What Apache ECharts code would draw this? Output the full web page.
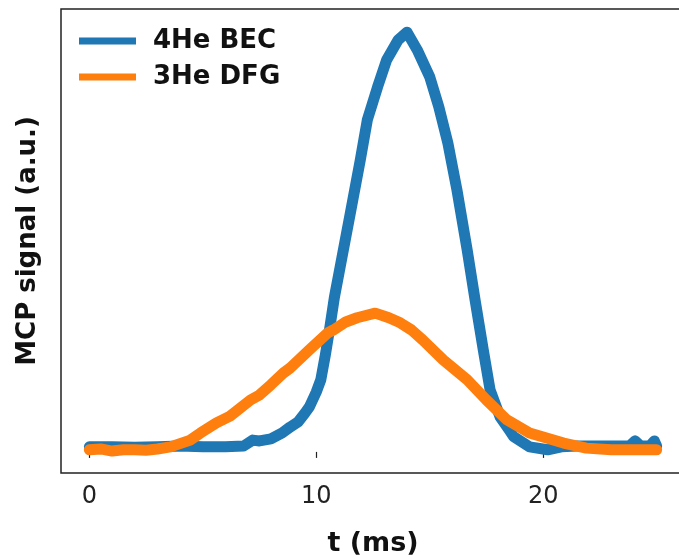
<!DOCTYPE html>
<html>
<head>
<meta charset="utf-8">
<script src="https://cdn.jsdelivr.net/npm/echarts@6/dist/echarts.min.js"></script>
<style>
  html, body { margin: 0; padding: 0; background: #fff; }
  #main { width: 679px; height: 559px; }
</style>
</head>
<body>
<div id="main"></div>
<script>
// data (t in ms, signal in arbitrary units)
var tBec = [0, 1, 2, 3, 4, 5, 6, 6.8, 7.2, 7.5, 8.0, 8.5, 8.85, 9.2, 9.5, 9.7, 10.0, 10.2, 10.4, 10.6, 10.8, 11.05, 11.5, 11.94, 12.25, 12.7, 13.1, 13.6, 14.0, 14.45, 15.0, 15.4, 15.8, 16.2, 16.65, 17.0, 17.36, 17.66, 18.1, 18.5, 18.7, 19.4, 20.2, 20.8, 21.5, 22, 23, 23.8, 24.05, 24.3, 24.7, 24.9, 25.0];
var vBec = [0.012, 0.012, 0.011, 0.012, 0.014, 0.012, 0.012, 0.014, 0.028, 0.026, 0.031, 0.045, 0.059, 0.071, 0.092, 0.107, 0.142, 0.171, 0.23, 0.296, 0.367, 0.438, 0.566, 0.692, 0.787, 0.865, 0.929, 0.976, 0.995, 0.953, 0.889, 0.818, 0.732, 0.621, 0.479, 0.36, 0.242, 0.147, 0.083, 0.052, 0.036, 0.012, 0.005, 0.012, 0.014, 0.014, 0.014, 0.014, 0.026, 0.014, 0.014, 0.026, 0.014];

var tDfg = [0, 0.5, 1, 1.5, 2, 2.5, 3, 3.57, 4.45, 4.9, 5.6, 6.2, 7.1, 7.5, 8.0, 8.55, 8.85, 9.7, 10.5, 10.75, 11.3, 11.8, 12.6, 13.2, 13.7, 14.2, 14.7, 15.6, 16.65, 17.5, 18.4, 19.4, 20.9, 21.9, 23, 24, 25];
var vDfg = [0.005, 0.007, 0.002, 0.005, 0.005, 0.004, 0.007, 0.012, 0.028, 0.045, 0.069, 0.085, 0.123, 0.135, 0.159, 0.187, 0.199, 0.242, 0.282, 0.289, 0.308, 0.318, 0.329, 0.318, 0.306, 0.289, 0.265, 0.218, 0.171, 0.123, 0.076, 0.045, 0.021, 0.009, 0.005, 0.005, 0.005];

var xTicks = [0, 10, 20];
var seriesNames = ['4He BEC', '3He DFG'];

function pairs(xs, ys) {
  var out = [];
  for (var i = 0; i < xs.length; i++) {
    out.push([xs[i], ys[i]]);
  }
  return out;
}

var chart = echarts.init(document.getElementById('main'), null, { renderer: 'canvas' });

var option = {
  backgroundColor: '#fff',
  animation: false,
  color: ['#1f77b4', '#ff7f0e'],
  textStyle: { fontFamily: 'DejaVu Sans' },
  grid: {
    left: 61,
    top: 9,
    width: 624,
    height: 464,
    outerBoundsMode: 'none',
    show: true,
    borderColor: '#222',
    borderWidth: 1.5,
    backgroundColor: 'transparent'
  },
  legend: {
    orient: 'vertical',
    left: 74,
    top: 23,
    icon: 'rect',
    itemWidth: 57,
    itemHeight: 7,
    itemGap: 10,
    data: seriesNames,
    textStyle: {
      fontFamily: 'DejaVu Sans',
      fontWeight: 'bold',
      fontSize: 26,
      color: '#111',
      padding: [0, 0, 0, 12]
    }
  },
  xAxis: {
    type: 'value',
    min: -1.25,
    max: 26.25,
    name: 't (ms)',
    nameLocation: 'middle',
    nameGap: 57,
    nameTextStyle: {
      fontFamily: 'DejaVu Sans',
      fontWeight: 'bold',
      fontSize: 27,
      color: '#111'
    },
    axisLine: { show: false },
    axisTick: {
      show: true,
      length: 6,
      customValues: xTicks,
      lineStyle: { color: '#222', width: 1.2 }
    },
    axisLabel: {
      customValues: xTicks,
      margin: 12,
      fontSize: 24,
      color: '#222',
      fontFamily: 'DejaVu Sans'
    },
    splitLine: { show: false }
  },
  yAxis: {
    type: 'value',
    min: -0.05,
    max: 1.05,
    name: 'MCP signal (a.u.)',
    nameLocation: 'middle',
    nameGap: 20,
    nameTextStyle: {
      fontFamily: 'DejaVu Sans',
      fontWeight: 'bold',
      fontSize: 26,
      color: '#111'
    },
    axisLine: { show: false },
    axisTick: { show: false },
    axisLabel: { show: false },
    splitLine: { show: false }
  },
  series: [{
    name: seriesNames[0],
    type: 'line',
    showSymbol: false,
    smooth: false,
    data: pairs(tBec, vBec),
    lineStyle: { width: 11, cap: 'round', join: 'round', color: '#1f77b4' },
    itemStyle: { color: '#1f77b4' },
    z: 2
  }, {
    name: seriesNames[1],
    type: 'line',
    showSymbol: false,
    smooth: false,
    data: pairs(tDfg, vDfg),
    lineStyle: { width: 11, cap: 'round', join: 'round', color: '#ff7f0e' },
    itemStyle: { color: '#ff7f0e' },
    z: 3
  }]
};

chart.setOption(option);
</script>
</body>
</html>
